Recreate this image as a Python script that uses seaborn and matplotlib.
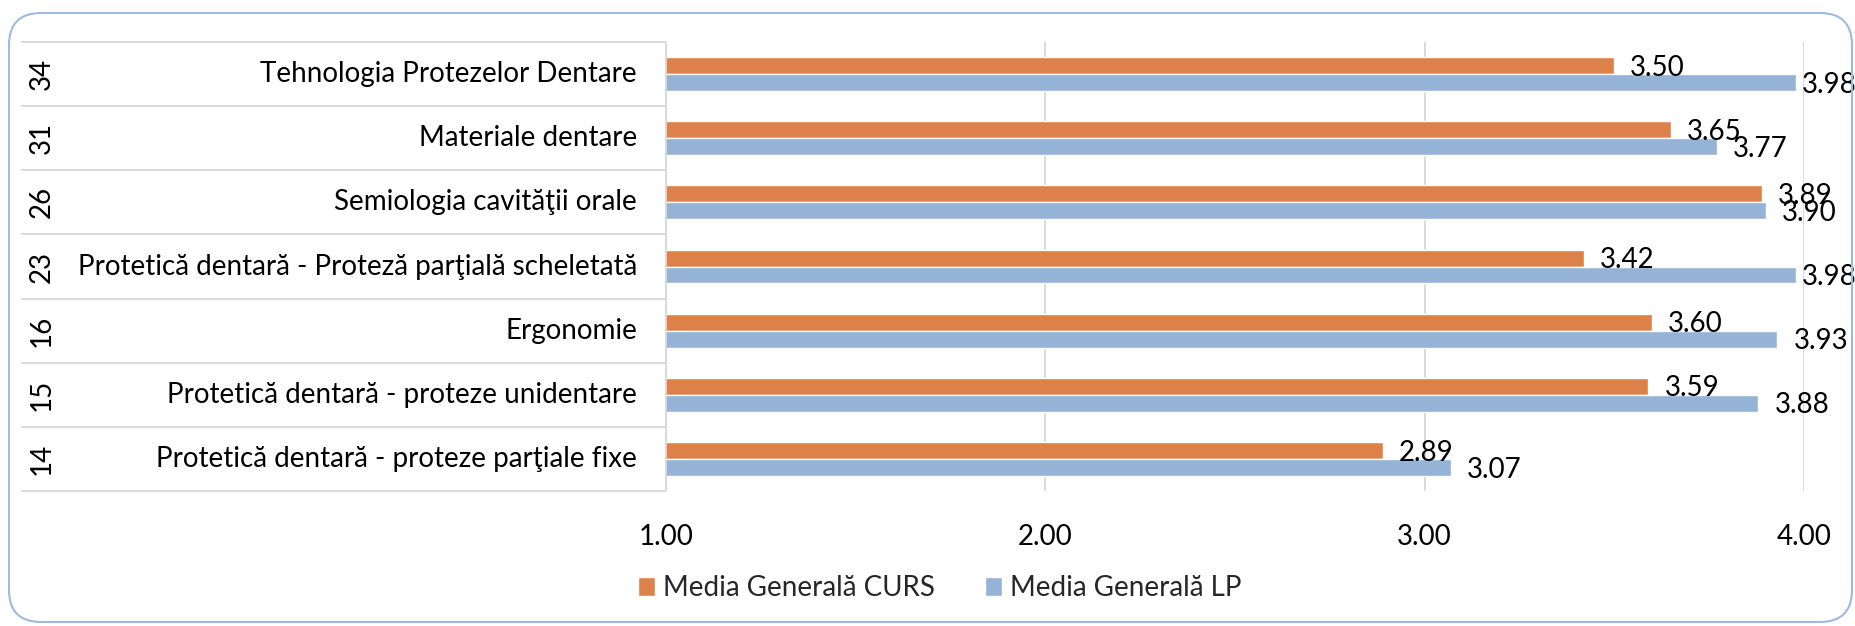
import matplotlib
matplotlib.use("Agg")
import matplotlib.pyplot as plt
import matplotlib.transforms as mtransforms
from matplotlib.patches import FancyBboxPatch
from matplotlib.lines import Line2D
import seaborn as sns
import pandas as pd

# ---------------- data ----------------
codes = ["34", "31", "26", "23", "16", "15", "14"]
subjects = [
    "Tehnologia Protezelor Dentare",
    "Materiale dentare",
    "Semiologia cavităţii orale",
    "Protetică dentară - Proteză parţială scheletată",
    "Ergonomie",
    "Protetică dentară - proteze unidentare",
    "Protetică dentară - proteze parţiale fixe",
]
curs = [3.50, 3.65, 3.89, 3.42, 3.60, 3.59, 2.89]
lp = [3.98, 3.77, 3.90, 3.98, 3.93, 3.88, 3.07]
series_names = ["Media Generală CURS", "Media Generală LP"]
xticks = [1.0, 2.0, 3.0, 4.0]

colors = ["#DE8049", "#95B3D7"]

# ---------------- style ----------------
sns.set_theme(style="white")
plt.rcParams["font.family"] = ["Lato", "DejaVu Sans"]
FS = 20

W, H = 1856, 626
fig = plt.figure(figsize=(W / 100, H / 100), dpi=100)
fig.patch.set_facecolor("white")

x0, x1, ytop, ybot = 666, 1804, 42, 491
ax = fig.add_axes([x0 / W, 1 - ybot / H, (x1 - x0) / W, (ybot - ytop) / H])

df = pd.DataFrame({
    "code": codes * 2,
    "value": curs + lp,
    "series": [series_names[0]] * len(codes) + [series_names[1]] * len(codes),
})

sns.barplot(data=df, y="code", x="value", hue="series", order=codes,
            hue_order=series_names, palette=colors, width=0.53, orient="h",
            errorbar=None, saturation=1, ax=ax)

handles, labels = ax.get_legend_handles_labels()
if ax.get_legend() is not None:
    ax.get_legend().remove()

ax.set_xlim(1, 4)
ax.set_xticks(xticks)
ax.set_xticklabels([f"{t:.2f}" for t in xticks], fontsize=FS, color="#000000")
ax.tick_params(axis="x", length=0, pad=24)
ypos = list(ax.get_yticks())
ax.tick_params(axis="y", left=False, labelleft=False)
ax.set_xlabel("")
ax.set_ylabel("")
ax.xaxis.grid(True, color="#D9D9D9", lw=1.4)
ax.set_axisbelow(True)
for s in ["top", "right", "bottom"]:
    ax.spines[s].set_visible(False)
ax.spines["left"].set_color("#D9D9D9")
ax.spines["left"].set_linewidth(1.4)

# value labels
for cont in ax.containers:
    for p in cont:
        v = p.get_width()
        yc = p.get_y() + p.get_height() / 2
        off = 3.6 if v > 3.95 else 11.5
        ax.annotate(f"{v:.2f}", xy=(v, yc), xytext=(off, -1.5),
                    textcoords="offset points", ha="left", va="center",
                    fontsize=FS, color="#000000", annotation_clip=False)

# category labels (two levels)
tr = mtransforms.blended_transform_factory(fig.transFigure, ax.transData)
for y, c, s in zip(ypos, codes, subjects):
    fig.text(637 / W, y, s, transform=tr, ha="right", va="center",
             fontsize=FS, color="#000000")
    fig.text(42 / W, y, c, transform=tr, ha="center", va="center",
             rotation=90, fontsize=FS, color="#000000")

# separators in label area
n = len(codes)
for k in range(n + 1):
    yb = k - 0.5
    fig.add_artist(Line2D([22 / W, x0 / W], [yb, yb], transform=tr,
                          color="#D9D9D9", lw=1.4))

# legend
fig.legend(handles, labels, loc="center", bbox_to_anchor=(940 / W, 1 - 588 / H),
           ncol=2, frameon=False, fontsize=FS, handlelength=0.6,
           handleheight=0.65, handletextpad=0.3, columnspacing=1.8)

# rounded border
border = FancyBboxPatch((9, 4), 1843, 609, boxstyle="round,pad=0,rounding_size=32",
                        transform=mtransforms.IdentityTransform(),
                        facecolor="none", edgecolor="#9DBBE0", lw=1.5)
fig.add_artist(border)

fig.savefig("out.png", dpi=100, facecolor="white")
